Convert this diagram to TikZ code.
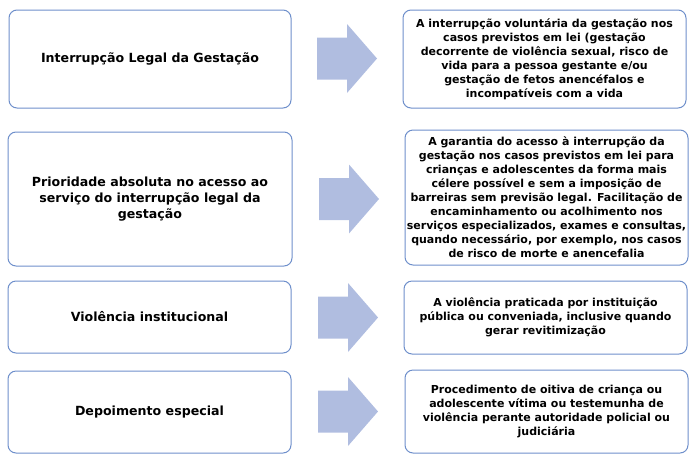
\documentclass[tikz,border=0pt]{standalone}
\usepackage{fontspec}
\setmainfont{DejaVu Sans}
\definecolor{boxline}{HTML}{6E8FCB}
\definecolor{arrowfill}{HTML}{B0BDE0}
\tikzset{
  leftbox/.style={draw=boxline, line width=1pt, rounded corners=8pt, align=center,
    font=\fontsize{12.6}{15.7}\selectfont\bfseries, inner sep=0pt},
  rightbox/.style={draw=boxline, line width=1pt, rounded corners=8pt, align=center,
    font=\fontsize{11}{14}\selectfont\bfseries, inner sep=0pt},
  bigarrow/.style={fill=arrowfill, draw=none}
}
\begin{document}
\begin{tikzpicture}[x=1pt,y=-1pt]
\useasboundingbox (0,0) rectangle (693,464);
% left boxes
\node[leftbox, minimum width=282pt, minimum height=98pt] (l1) at (150,59) {Interrupção Legal da Gestação};
\node[leftbox, minimum width=284pt, minimum height=134pt] (l2) at (150,199) {Prioridade absoluta no acesso ao\\serviço do interrupção legal da\\gestação};
\node[leftbox, minimum width=283pt, minimum height=72pt] (l3) at (149.5,317) {Violência institucional};
\node[leftbox, minimum width=283pt, minimum height=82pt] (l4) at (149.5,412) {Depoimento especial};
% arrows
\coordinate (a1) at (347,58.5);
\coordinate (a2) at (349,199);
\coordinate (a3) at (348,317.5);
\coordinate (a4) at (348,411.5);
\foreach \a in {a1,a2,a3,a4}
  \fill[bigarrow] (\a) ++(-30,-21) -- ++(30,0) -- ++(0,-13.5) -- ++(30,34.5)
    -- ++(-30,34.5) -- ++(0,-13.5) -- ++(-30,0) -- cycle;
% right boxes
\node[rightbox, minimum width=283pt, minimum height=98pt] (r1) at (544.5,59) {A interrupção voluntária da gestação nos\\casos previstos em lei (gestação\\decorrente de violência sexual, risco de\\vida para a pessoa gestante e/ou\\gestação de fetos anencéfalos e\\incompatíveis com a vida};
\node[rightbox, minimum width=283pt, minimum height=135pt] (r2) at (546.5,197.5) {A garantia do acesso à interrupção da\\gestação nos casos previstos em lei para\\crianças e adolescentes da forma mais\\célere possível e sem a imposição de\\barreiras sem previsão legal. Facilitação de\\encaminhamento ou acolhimento nos\\serviços especializados, exames e consultas,\\quando necessário, por exemplo, nos casos\\de risco de morte e anencefalia};
\node[rightbox, minimum width=283pt, minimum height=73pt] (r3) at (545.5,317.5) {A violência praticada por instituição\\pública ou conveniada, inclusive quando\\gerar revitimização};
\node[rightbox, minimum width=283pt, minimum height=83pt] (r4) at (546.5,411.5) {Procedimento de oitiva de criança ou\\adolescente vítima ou testemunha de\\violência perante autoridade policial ou\\judiciária};
\end{tikzpicture}
\end{document}
